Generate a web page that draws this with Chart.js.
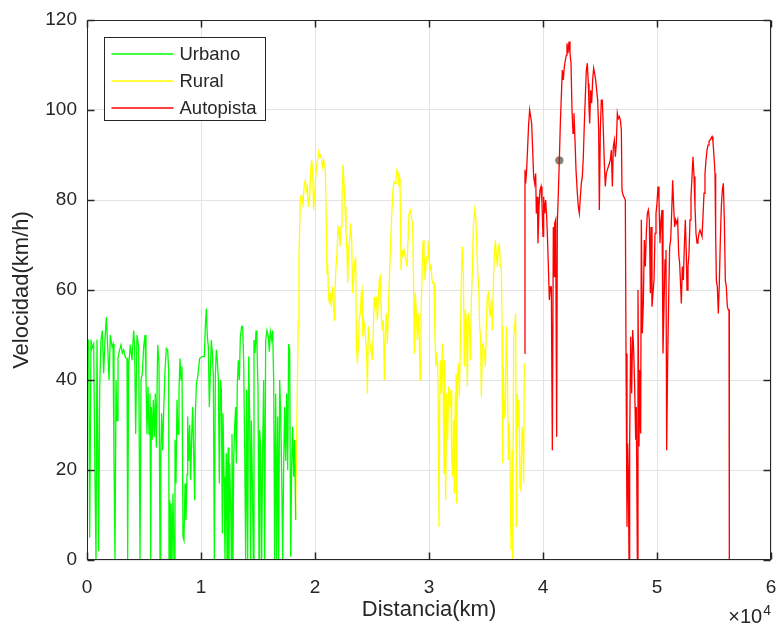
<!DOCTYPE html>
<html>
<head>
<meta charset="utf-8">
<title>Velocidad vs distancia</title>
<script src="https://cdn.jsdelivr.net/npm/chart.js@4.4.0/dist/chart.umd.min.js"></script>
<style>
  html, body { margin: 0; padding: 0; background: #ffffff; }
  #wrap { width: 777px; height: 628px; }
</style>
</head>
<body>
<div id="wrap"><canvas id="speedChart" width="777" height="628"></canvas></div>
<script>
// distance in metres, speed in km/h
const urbanoDist = [
  0,146,234,351,439,585,702,789,877,1023,
  1111,1228,1345,1462,1579,1696,1813,1930,2047,2193,
  2281,2368,2456,2544,2632,2719,2866,2982,3099,3216,
  3363,3509,3567,3655,3801,3947,4094,4181,4269,4386,
  4532,4649,4737,4854,4971,5088,5175,5263,5351,5439,
  5526,5585,5643,5731,5819,5906,5994,6082,6199,6316,
  6404,6462,6550,6637,6725,6842,6959,7076,7164,7193,
  7252,7310,7368,7456,7544,7632,7719,7807,7895,7983,
  8070,8158,8246,8333,8421,8509,8597,8684,8772,8830,
  8918,9006,9094,9181,9269,9357,9445,9503,9591,9708,
  9883,10088,10292,10380,10468,10556,10643,10731,10819,10907,
  10994,11082,11170,11257,11345,11433,11521,11608,11696,11784,
  11872,11930,12018,12105,12164,12222,12281,12339,12398,12456,
  12515,12602,12661,12719,12807,12866,12953,13041,13100,13187,
  13275,13363,13450,13567,13655,13743,13831,13918,14006,14094,
  14181,14269,14357,14415,14503,14591,14649,14737,14825,14912,
  15000,15088,15146,15234,15322,15409,15497,15585,15673,15790,
  15907,15994,16082,16199,16287,16374,16462,16550,16638,16725,
  16813,16901,16989,17076,17164,17252,17339,17427,17515,17602,
  17690,17778,17866,17953,18041,18129,18217,18304
];
const urbanoVel = [
  46,49,5,49,47,48,18,0,49,2,
  38,49,51,41.5,49,54,47.4,40,50,47.4,
  48,22,0,40,31,45,46.7,47.8,46,46.7,
  45,44.8,0,43,47.8,44.4,51,47.4,28,50,
  47.4,0,40,41.5,47.4,50,40,28,38.5,28,
  37,0,34,26.7,35.6,27.4,37,25,47.8,43.7,
  0,22,32.6,24.4,33,42,47,46.7,42,0,
  13.3,0,12.6,0,14.8,0,26.7,17,35.6,28,
  37.8,44.8,40,43,5.2,4.4,17,8.9,19,31.9,
  22,30,17.8,27.4,34,23.7,13.3,31.9,39,40.7,
  44.8,45.2,45.2,51.9,55.9,49.6,47.4,34,41.5,48.9,
  46,40.7,0,40.7,46.7,44.4,40,17,40,37.8,
  5.9,32.6,18.5,0,16.3,23.7,0,20.7,25,0,
  21.5,11.9,0,28,0,22,29.6,34,21.5,39,
  44.4,40,49.6,51.9,51.9,44,25,0,37.8,0,
  45.2,31.9,0,31,17.8,0,48.9,46,51,47.4,
  37.8,0,28.9,25,0,25,40,0,48.9,51,
  49.6,46.3,50.7,48.9,51,40,0,37,0,31.9,
  0,40,32.6,19.3,0,21.5,34,22,37,20,
  48,46.7,0.7,20.7,29.6,18.5,26.7,8.9
];

const ruralDist = [
  18300,18390,18470,18530,18596,18713,18830,18947,19064,19152,
  19240,19327,19415,19532,19620,19708,19795,19883,19971,20058,
  20146,20234,20322,20409,20497,20585,20673,20760,20848,20906,
  20994,21053,21111,21170,21257,21345,21433,21520,21608,21696,
  21754,21842,21930,22018,22105,22193,22281,22368,22456,22544,
  22632,22719,22807,22866,22953,23041,23129,23216,23304,23392,
  23480,23567,23626,23714,23801,23889,23977,24064,24123,24181,
  24269,24357,24444,24532,24591,24678,24766,24854,24942,25029,
  25117,25205,25292,25380,25468,25556,25643,25731,25819,25906,
  25994,26082,26170,26257,26345,26491,26608,26725,26842,26930,
  27018,27105,27193,27281,27368,27456,27544,27632,27719,27807,
  27895,27983,28070,28158,28246,28392,28480,28567,28655,28713,
  28801,28889,28977,29064,29152,29211,29298,29386,29474,29561,
  29649,29737,29825,29912,30000,30088,30175,30263,30351,30439,
  30526,30614,30673,30760,30819,30877,30936,30994,31082,31170,
  31257,31316,31374,31462,31550,31637,31725,31813,31871,31930,
  31988,32076,32164,32222,32310,32368,32427,32485,32573,32661,
  32749,32836,32924,33012,33099,33187,33275,33363,33450,33538,
  33626,33713,33801,33889,34006,34094,34181,34269,34357,34444,
  34532,34591,34678,34766,34854,34942,35029,35117,35205,35292,
  35380,35468,35556,35643,35731,35819,35906,35994,36082,36170,
  36257,36345,36404,36462,36521,36608,36696,36784,36871,36959,
  37047,37135,37193,37281,37339,37427,37515,37602,37661,37749,
  37836,37895,37983,38070,38158,38246,38304,38363
];
const ruralVel = [
  8.9,26.7,41.5,53.3,67.4,80.7,81,79,83.7,84.4,
  82,83,78.5,80.7,86.7,88.9,86,77.8,81.5,85,
  88,88.9,90.7,89.6,90,88.9,87.4,88.9,87.4,87,
  74,63.7,65.9,59.3,57,59.3,56.3,60.7,57.8,53.3,
  60,65.2,68,74,73.3,69.6,74,80,87.8,83.7,
  78.5,72.6,68.9,61.5,69.6,71,74.8,71,59.3,62.2,
  65.9,67.4,48.9,43.7,47.4,54,54.8,59.3,60,49.6,
  53.3,51.9,48.9,45.9,37,51.9,48.9,47.4,45.9,44.4,
  51.1,58.5,56.3,58.5,53.3,57.8,62.2,63,54,51.1,
  53.3,40,50.4,54.8,48.1,60,68.9,76.3,82.2,84,
  83.7,85,86.7,86,83,85,64.4,68.9,67.4,68.9,
  67.4,66.7,65.2,71,77,77.8,75.6,74.8,60,45.9,
  59.3,54.8,48.9,54.8,48.9,40,54,63,71,68.9,
  62.2,65.9,67.4,71,66.7,64.4,65.9,62.2,61.5,61.5,
  48.9,43,45.2,43.7,31.1,7.4,34,44.4,37,48.1,
  37,19.3,44.4,13.3,37,26.7,38.5,37,34,37.8,
  23,18.5,31.1,14.8,37,41.5,12.6,40,43.7,36.3,
  47.4,62.2,69.6,63.7,43,55.6,53.3,38.5,54.8,52.6,
  44.4,57,64.4,74,77.8,76.3,71,63.7,61.5,51.9,
  48.9,36.3,47.4,48.1,45.9,43,51.9,58.5,59.3,55.6,
  54,57.8,51.1,60.7,68,71,68,65.2,68.9,70.4,
  65.2,65.2,51.9,21.5,43,31.9,32.6,51.9,43,22.2,
  30.4,16.3,2.2,24.4,0,49.6,51.9,54.8,7.4,37,
  29.6,35.6,16.3,15.6,29.6,26.7,17,43.7
];

const autopistaDist = [
  38390,38421,38480,38567,38655,38743,38830,38918,39006,39094,
  39181,39269,39357,39415,39503,39561,39649,39737,39825,39912,
  40000,40058,40146,40234,40322,40409,40497,40556,40643,40731,
  40819,40906,40965,41023,41111,41199,41257,41345,41433,41520,
  41608,41696,41784,41871,41959,42047,42105,42193,42281,42368,
  42456,42544,42632,42719,42807,42895,43012,43099,43187,43275,
  43363,43450,43538,43626,43713,43801,43889,43977,44035,44094,
  44181,44269,44357,44444,44532,44620,44708,44795,44883,44942,
  45029,45117,45205,45292,45380,45468,45556,45643,45731,45819,
  45906,45994,46082,46170,46257,46345,46432,46520,46608,46696,
  46784,46871,46930,47018,47105,47222,47281,47368,47427,47485,
  47544,47602,47690,47778,47865,47953,48041,48129,48187,48275,
  48333,48421,48480,48567,48626,48713,48801,48889,48977,49064,
  49152,49240,49327,49415,49474,49561,49649,49737,49825,49912,
  50000,50088,50175,50263,50351,50439,50526,50614,50702,50789,
  50848,50936,51023,51111,51199,51286,51374,51462,51550,51637,
  51725,51813,51901,51988,52076,52135,52222,52310,52398,52485,
  52573,52632,52719,52807,52895,52982,53070,53158,53246,53333,
  53421,53509,53596,53684,53772,53860,53947,54035,54123,54210,
  54298,54386,54474,54561,54649,54737,54825,54912,55000,55088,
  55146,55205,55292,55380,55468,55556,55643,55731,55819,55906,
  55994,56082,56170,56257,56316,56345
];
const autopistaVel = [
  45.9,86.7,83.7,86.7,91.9,97,100,98.5,97,91.1,
  85.2,83.7,85.9,77,80.7,70.4,78.5,82.2,83,79.3,
  71.9,80.7,77,80,76.3,70.4,63,57.8,60.7,60.7,
  24.4,74,63,74.8,75.6,27.4,74.8,81.5,88.8,97,
  103,108.9,106.7,109.6,111,112.2,114.8,112.6,115.2,112.6,
  110.4,100,94.8,99.3,93.3,86.7,81.5,78.5,77,80.7,
  83.7,85.2,89.6,97,103,108.9,110.4,105.9,100.7,97,
  104.4,101.5,106.7,109.3,108.1,106.7,104.4,102.2,95.6,77.8,
  95.6,102.2,102.2,95.6,88.1,83,85.9,86.7,87.4,88.1,
  88.9,91.1,83,91.9,93.3,89.6,92.6,99.3,98.1,98.5,
  97.8,95.6,82.2,81.1,81.1,80,45.9,7.4,25.9,20,
  0,25.9,49.6,37,51.1,46.7,38.5,26.7,34,0,
  60,25.2,42.2,28.1,75.6,50.4,57,71.1,65.2,72.6,
  77,77.8,75.6,59.3,74,56.3,59.3,62.2,72.6,77,
  79.3,83,80,70.4,75.6,77.8,45.9,56.3,66.7,68.9,
  24.4,44.4,57.8,69.6,71.1,77,84.4,78.5,74,75.6,
  74.8,75.6,68.1,65.9,60.7,57,65.2,62.2,69.6,75.6,
  68.1,60,65.2,68.1,75.6,80.7,85.2,89.6,85.2,78.5,
  72.6,70.4,71.1,72.6,73.3,72.6,71.9,76.3,81.5,85.9,
  88.9,91.1,92.2,93,93.3,93.7,94.1,93,89.6,85.9,
  72.6,62.2,60.7,54.8,61.5,71.1,78.5,82.2,83.7,75.6,
  62.2,60.7,56.3,55.6,55.6,0
];

// highlighted sample on the motorway trace
const markerDist = [41433];
const markerVel = [88.8];

const xTickLabels = ['0', '1', '2', '3', '4', '5', '6'];
const yTickValues = [0, 20, 40, 60, 80, 100, 120];

const axisColor = '#262626';
const fontFamily = '"Liberation Sans", Arial, Helvetica, sans-serif';

function toPoints(xs, ys) {
  return xs.map((x, i) => ({ x: x, y: ys[i] }));
}

function lineSet(label, xs, ys, color) {
  return {
    label: label,
    data: toPoints(xs, ys),
    borderColor: color,
    backgroundColor: color,
    borderWidth: 1.3,
    pointRadius: 0,
    tension: 0,
    fill: false
  };
}

// box around the axes with inward ticks on all four sides
const axesFrame = {
  id: 'axesFrame',
  afterDatasetsDraw(chart) {
    const { ctx, chartArea: a, scales: { x, y } } = chart;
    const L = Math.round(a.left) + 0.5, R = Math.round(a.right) - 0.5;
    const T = Math.round(a.top) + 0.5, B = Math.round(a.bottom) - 0.5;
    const len = 7;
    ctx.save();
    ctx.strokeStyle = axisColor;
    ctx.lineWidth = 1;
    ctx.strokeRect(L, T, R - L, B - T);
    ctx.lineWidth = 1.5;
    ctx.beginPath();
    x.ticks.forEach(t => {
      const px = Math.round(x.getPixelForValue(t.value)) + 0.5;
      ctx.moveTo(px, B); ctx.lineTo(px, B - len);
      ctx.moveTo(px, T); ctx.lineTo(px, T + len);
    });
    y.ticks.forEach(t => {
      const py = Math.round(y.getPixelForValue(t.value)) + 0.5;
      ctx.moveTo(L, py); ctx.lineTo(L + len, py);
      ctx.moveTo(R, py); ctx.lineTo(R - len, py);
    });
    ctx.stroke();
    ctx.restore();
  }
};

// legend box in the upper left corner of the axes
const boxLegend = {
  id: 'boxLegend',
  afterDraw(chart) {
    const { ctx, chartArea: a } = chart;
    const bx = Math.round(a.left) + 17.5, by = Math.round(a.top) + 17.5;
    const bw = 161, bh = 83;
    ctx.save();
    ctx.fillStyle = '#ffffff';
    ctx.fillRect(bx, by, bw, bh);
    ctx.strokeStyle = axisColor;
    ctx.lineWidth = 1;
    ctx.strokeRect(bx, by, bw, bh);
    ctx.font = '18.5px ' + fontFamily;
    ctx.textBaseline = 'middle';
    ctx.textAlign = 'left';
    chart.data.datasets.filter(d => d.type !== 'scatter').forEach((d, i) => {
      const ry = Math.round(by + 16 + i * 27);
      ctx.strokeStyle = d.borderColor;
      ctx.lineWidth = 1.3;
      ctx.beginPath();
      ctx.moveTo(bx + 7, ry);
      ctx.lineTo(bx + 69, ry);
      ctx.stroke();
      ctx.fillStyle = axisColor;
      ctx.fillText(d.label, bx + 75, ry + 1);
    });
    ctx.restore();
  }
};

// exponent note for the distance axis
const xExponent = {
  id: 'xExponent',
  afterDraw(chart) {
    const { ctx, chartArea: a } = chart;
    ctx.save();
    ctx.fillStyle = axisColor;
    ctx.textBaseline = 'alphabetic';
    ctx.textAlign = 'right';
    ctx.font = '14px ' + fontFamily;
    ctx.fillText('4', a.right, a.bottom + 55);
    const w = ctx.measureText('4').width;
    ctx.font = '20px ' + fontFamily;
    ctx.fillText('\u00d710', a.right - w - 1, a.bottom + 63);
    ctx.restore();
  }
};

const ctx = document.getElementById('speedChart').getContext('2d');
new Chart(ctx, {
  type: 'line',
  data: {
    datasets: [
      lineSet('Urbano', urbanoDist, urbanoVel, '#00ff00'),
      lineSet('Rural', ruralDist, ruralVel, '#ffff00'),
      lineSet('Autopista', autopistaDist, autopistaVel, '#ff0000'),
      {
        type: 'scatter',
        label: 'marker',
        data: toPoints(markerDist, markerVel),
        pointRadius: 4.5,
        pointBackgroundColor: '#7f7f7f',
        pointBorderColor: '#f3efc6',
        pointBorderWidth: 1,
        showLine: false
      }
    ]
  },
  options: {
    responsive: false,
    animation: false,
    parsing: false,
    normalized: true,
    layout: { padding: { top: 20, right: 6, left: 0, bottom: 0 } },
    plugins: {
      legend: { display: false },
      tooltip: { enabled: false }
    },
    scales: {
      x: {
        type: 'linear',
        min: 0,
        max: 60000,
        afterFit: s => { s.height = 68; s.paddingLeft = 0; s.paddingRight = 0; },
        afterBuildTicks: s => { s.ticks = xTickLabels.map((_, i) => ({ value: i * 10000 })); },
        ticks: {
          autoSkip: false,
          maxRotation: 0,
          padding: 16,
          color: axisColor,
          font: { family: fontFamily, size: 19 },
          callback: (v, i) => xTickLabels[i]
        },
        grid: { color: '#e3e3e3', lineWidth: 1, drawTicks: false },
        border: { display: false },
        title: {
          display: true,
          text: 'Distancia(km)',
          color: axisColor,
          font: { family: fontFamily, size: 22 },
          padding: { top: 0, bottom: 5 }
        }
      },
      y: {
        type: 'linear',
        min: 0,
        max: 120,
        afterFit: s => { s.width = 87; s.paddingTop = 0; s.paddingBottom = 0; },
        afterBuildTicks: s => { s.ticks = yTickValues.map(v => ({ value: v })); },
        ticks: {
          padding: 10,
          color: axisColor,
          font: { family: fontFamily, size: 19 }
        },
        grid: { color: '#e3e3e3', lineWidth: 1, drawTicks: false },
        border: { display: false },
        title: {
          display: true,
          text: 'Velocidad(km/h)',
          color: axisColor,
          font: { family: fontFamily, size: 22 },
          padding: { top: 9, bottom: 0 }
        }
      }
    }
  },
  plugins: [axesFrame, boxLegend, xExponent]
});
</script>
</body>
</html>
